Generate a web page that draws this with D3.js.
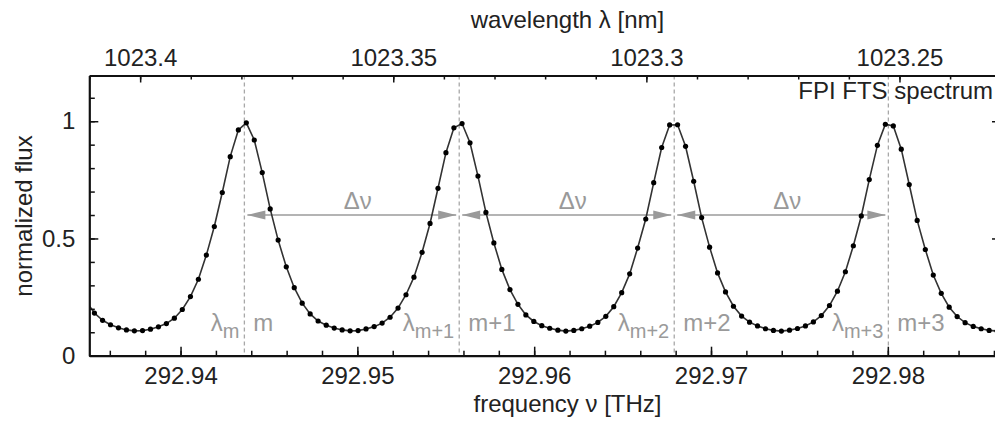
<!DOCTYPE html>
<html>
<head>
<meta charset="utf-8">
<script src="https://cdn.jsdelivr.net/npm/d3@7"></script>
<style>
  body { margin: 0; background: #fff; overflow: hidden; }
  svg text { font-family: "Liberation Sans", Arial, Helvetica, sans-serif; }
</style>
</head>
<body>
<div id="chart"></div>
<script>
// speed of light in nm*THz, used for the wavelength axis
const C_NM_THZ = 299792.458;

// FTS samples: frequency [THz] and normalized flux
const frequency = [
  292.93468, 292.93513, 292.93559, 292.93604, 292.93649, 292.93694, 292.93739, 292.93785, 292.93830, 292.93875,
  292.93920, 292.93965, 292.94010, 292.94056, 292.94101, 292.94146, 292.94191, 292.94236, 292.94281, 292.94327,
  292.94372, 292.94417, 292.94462, 292.94507, 292.94552, 292.94598, 292.94643, 292.94688, 292.94733, 292.94778,
  292.94824, 292.94869, 292.94914, 292.94959, 292.95004, 292.95049, 292.95095, 292.95140, 292.95185, 292.95230,
  292.95275, 292.95320, 292.95366, 292.95411, 292.95456, 292.95501, 292.95546, 292.95592, 292.95637, 292.95682,
  292.95727, 292.95772, 292.95817, 292.95863, 292.95908, 292.95953, 292.95998, 292.96043, 292.96088, 292.96134,
  292.96179, 292.96224, 292.96269, 292.96314, 292.96360, 292.96405, 292.96450, 292.96495, 292.96540, 292.96585,
  292.96631, 292.96676, 292.96721, 292.96766, 292.96811, 292.96856, 292.96902, 292.96947, 292.96992, 292.97037,
  292.97082, 292.97127, 292.97173, 292.97218, 292.97263, 292.97308, 292.97353, 292.97398, 292.97444, 292.97489,
  292.97534, 292.97579, 292.97624, 292.97670, 292.97715, 292.97760, 292.97805, 292.97850, 292.97895, 292.97941,
  292.97986, 292.98031, 292.98076, 292.98121, 292.98166, 292.98212, 292.98257, 292.98302, 292.98347, 292.98392,
  292.98437, 292.98483, 292.98528, 292.98573, 292.98618, 292.98663
];
const flux = [
  0.230, 0.182, 0.151, 0.132, 0.119, 0.110, 0.106, 0.107, 0.113, 0.123,
  0.137, 0.160, 0.197, 0.252, 0.326, 0.429, 0.551, 0.696, 0.849, 0.963,
  0.993, 0.920, 0.781, 0.626, 0.493, 0.379, 0.290, 0.224, 0.178, 0.148,
  0.130, 0.118, 0.110, 0.106, 0.107, 0.114, 0.124, 0.139, 0.164, 0.203,
  0.260, 0.335, 0.441, 0.564, 0.714, 0.866, 0.972, 0.990, 0.908, 0.766,
  0.611, 0.481, 0.368, 0.282, 0.219, 0.174, 0.146, 0.128, 0.117, 0.109,
  0.105, 0.108, 0.115, 0.126, 0.142, 0.168, 0.209, 0.269, 0.349, 0.459,
  0.583, 0.738, 0.888, 0.984, 0.985, 0.893, 0.744, 0.589, 0.463, 0.353,
  0.272, 0.211, 0.169, 0.143, 0.127, 0.115, 0.108, 0.105, 0.109, 0.116,
  0.127, 0.144, 0.171, 0.214, 0.275, 0.358, 0.469, 0.596, 0.751, 0.897,
  0.987, 0.980, 0.881, 0.730, 0.577, 0.453, 0.344, 0.266, 0.207, 0.167,
  0.141, 0.125, 0.115, 0.108, 0.105, 0.109
];

// peak positions (FPI orders) and their labels
const peakFrequency = [292.94361, 292.95576, 292.96792, 292.98003];
const orderLabels = ['m', 'm+1', 'm+2', 'm+3'];
const spacingLabel = '\u0394\u03bd';
const arrowLevel = 0.6;

// axis ticks
const freqTicks = [292.94, 292.95, 292.96, 292.97, 292.98];
const wavelengthTicks = [1023.4, 1023.35, 1023.3, 1023.25];
const fluxTicks = [0, 0.5, 1];
const freqDomain = [292.93484, 292.98640];
const fluxDomain = [0, 1.195];

const W = 995, H = 421;
const plot = {left: 89.3, right: 1001, top: 75.5, bottom: 355.7};
const FONT = '"Liberation Sans", Arial, Helvetica, sans-serif';
const FS = 24;

const svg = d3.select('#chart').append('svg')
  .attr('width', W).attr('height', H);

const x = d3.scaleLinear().domain(freqDomain).range([plot.left, plot.right]);
const y = d3.scaleLinear().domain(fluxDomain).range([plot.bottom, plot.top]);
const lam = d3.scaleLinear()
  .domain(freqDomain.map(f => C_NM_THZ / f))
  .range([plot.left, plot.right]);

svg.append('defs').append('clipPath').attr('id', 'plotclip')
  .append('rect')
  .attr('x', plot.left).attr('y', plot.top)
  .attr('width', plot.right - plot.left).attr('height', plot.bottom - plot.top);

// dashed order markers
svg.append('g').selectAll('line')
  .data(peakFrequency).enter().append('line')
  .attr('x1', d => x(d)).attr('x2', d => x(d))
  .attr('y1', plot.top).attr('y2', plot.bottom)
  .attr('stroke', '#a8a8a8').attr('stroke-width', 1.3)
  .attr('stroke-dasharray', '4,3');

// free spectral range arrows
const arrows = svg.append('g');
const spans = d3.pairs(peakFrequency);
const gap = 3, headL = 18, headW = 4.5;
arrows.selectAll('line')
  .data(spans).enter().append('line')
  .attr('x1', d => x(d[0]) + gap).attr('x2', d => x(d[1]) - gap)
  .attr('y1', y(arrowLevel)).attr('y2', y(arrowLevel))
  .attr('stroke', '#b4b4b4').attr('stroke-width', 2);
spans.forEach(d => {
  const ya = y(arrowLevel), xa = x(d[0]) + gap, xb = x(d[1]) - gap;
  arrows.append('path')
    .attr('d', `M${xa},${ya}L${xa + headL},${ya - headW}L${xa + headL},${ya + headW}Z`)
    .attr('fill', '#9a9a9a');
  arrows.append('path')
    .attr('d', `M${xb},${ya}L${xb - headL},${ya - headW}L${xb - headL},${ya + headW}Z`)
    .attr('fill', '#9a9a9a');
});
arrows.selectAll('text')
  .data(spans).enter().append('text')
  .attr('x', d => (x(d[0]) + x(d[1])) / 2 + 6)
  .attr('y', y(arrowLevel) - 6)
  .attr('text-anchor', 'middle')
  .attr('font-size', FS).attr('fill', '#999')
  .text(spacingLabel);

// order labels
const labels = svg.append('g').attr('fill', '#9a9a9a').attr('font-size', FS);
peakFrequency.forEach((f, i) => {
  const t = labels.append('text')
    .attr('x', x(f) - 5).attr('y', plot.bottom - 25)
    .attr('text-anchor', 'end');
  t.append('tspan').text('\u03bb');
  t.append('tspan').attr('font-size', 20).attr('dy', 7).text(orderLabels[i]);
  labels.append('text')
    .attr('x', x(f) + 9).attr('y', plot.bottom - 25)
    .text(orderLabels[i]);
});

// spectrum
const pts = frequency.map((f, i) => ({f: f, v: flux[i]}));
const curve = svg.append('g').attr('clip-path', 'url(#plotclip)');
curve.append('path')
  .datum(pts)
  .attr('d', d3.line().x(d => x(d.f)).y(d => y(d.v)))
  .attr('fill', 'none').attr('stroke', '#333').attr('stroke-width', 1.6);
curve.selectAll('circle')
  .data(pts).enter().append('circle')
  .attr('cx', d => x(d.f)).attr('cy', d => y(d.v))
  .attr('r', 2.6).attr('fill', '#000');

// axes
function styleAxis(g, keepDomain) {
  g.attr('font-family', FONT);
  if (keepDomain) g.select('.domain').attr('stroke', '#111').attr('stroke-width', 2.2);
  else g.select('.domain').remove();
  g.selectAll('.tick line').attr('stroke', '#111').attr('stroke-width', 1.5);
  g.selectAll('.tick text').attr('font-size', FS).attr('fill', '#222');
}

// bottom
svg.append('g').attr('transform', `translate(0,${plot.bottom})`)
  .call(d3.axisBottom(x).tickValues(x.ticks(25)).tickSizeInner(-5).tickSizeOuter(0).tickFormat(''))
  .call(g => styleAxis(g, false));
svg.append('g').attr('transform', `translate(0,${plot.bottom})`)
  .call(d3.axisBottom(x).tickValues(freqTicks).tickSizeInner(-9).tickSizeOuter(0)
    .tickPadding(11).tickFormat(d3.format('.2f')))
  .call(g => styleAxis(g, true));

// top (wavelength)
svg.append('g').attr('transform', `translate(0,${plot.top})`)
  .call(d3.axisTop(lam).tickValues(lam.ticks(18)).tickSizeInner(-4).tickSizeOuter(0).tickFormat(''))
  .call(g => styleAxis(g, false));
svg.append('g').attr('transform', `translate(0,${plot.top})`)
  .call(d3.axisTop(lam).tickValues(wavelengthTicks).tickSizeInner(-7).tickSizeOuter(0)
    .tickPadding(10).tickFormat(d => String(d)))
  .call(g => styleAxis(g, true));

// left
svg.append('g').attr('transform', `translate(${plot.left},0)`)
  .call(d3.axisLeft(y).tickValues(y.ticks(12)).tickSizeInner(-5.5).tickSizeOuter(0).tickFormat(''))
  .call(g => styleAxis(g, false));
svg.append('g').attr('transform', `translate(${plot.left},0)`)
  .call(d3.axisLeft(y).tickValues(fluxTicks).tickSizeInner(-9).tickSizeOuter(0)
    .tickPadding(14).tickFormat(d => String(d)))
  .call(g => styleAxis(g, true));

// right (mirror, no labels)
svg.append('g').attr('transform', `translate(${plot.right},0)`)
  .call(d3.axisRight(y).tickValues(y.ticks(12)).tickSizeInner(-5.5).tickSizeOuter(0).tickFormat(''))
  .call(g => styleAxis(g, false));
svg.append('g').attr('transform', `translate(${plot.right},0)`)
  .call(d3.axisRight(y).tickValues(fluxTicks).tickSizeInner(-9).tickSizeOuter(0).tickFormat(''))
  .call(g => styleAxis(g, true));

// titles
svg.append('text')
  .attr('x', 567.5).attr('y', 412).attr('text-anchor', 'middle')
  .attr('font-size', FS).attr('fill', '#222')
  .text('frequency \u03bd [THz]');
svg.append('text')
  .attr('x', 567.5).attr('y', 28).attr('text-anchor', 'middle')
  .attr('font-size', FS).attr('fill', '#222')
  .text('wavelength \u03bb [nm]');
svg.append('text')
  .attr('transform', `translate(32,${216}) rotate(-90)`)
  .attr('text-anchor', 'middle')
  .attr('font-size', FS).attr('fill', '#222')
  .text('normalized flux');
svg.append('text')
  .attr('x', 993).attr('y', 99).attr('text-anchor', 'end')
  .attr('font-size', FS).attr('fill', '#222')
  .text('FPI FTS spectrum');
</script>
</body>
</html>
